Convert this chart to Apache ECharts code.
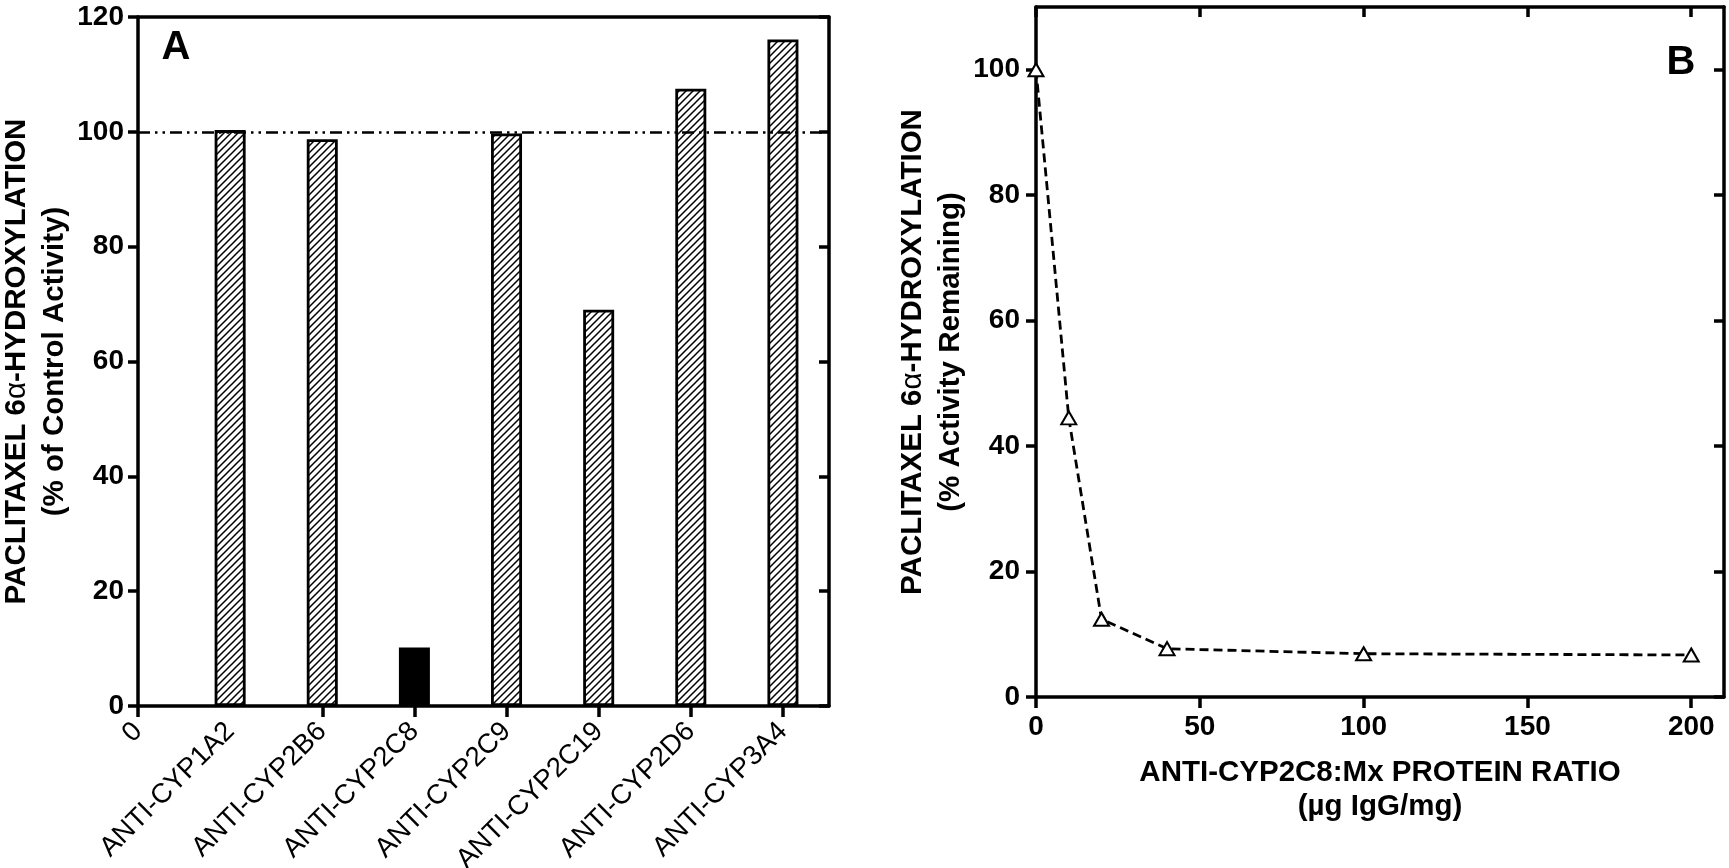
<!DOCTYPE html>
<html><head><meta charset="utf-8">
<script src="https://cdn.jsdelivr.net/npm/echarts@6/dist/echarts.min.js"></script>
<style>html,body{margin:0;padding:0;background:#fff}#c{width:1729px;height:868px}</style>
</head><body><div id="c"></div>
<script>
// ---- Data ----
const categories = ['0','ANTI-CYP1A2','ANTI-CYP2B6','ANTI-CYP2C8','ANTI-CYP2C9','ANTI-CYP2C19','ANTI-CYP2D6','ANTI-CYP3A4'];
const antibodyPositions = [1,2,3,4,5,6,7];
const activityPct = [100.3, 98.7, 10.2, 99.7, 69.0, 107.5, 116.1];
const solidBarIndex = 2; // ANTI-CYP2C8 drawn solid
const controlLevel = 100;
const xLabelPositionsA = [0,1,2,3,4,5,6,7];
const xTickPositionsA = [0,2,3,4,5,6,7];
const yTicksA = [0,20,40,60,80,100,120];

const ratioValues = [0,10,20,40,100,200];
const remainingPct = [100, 44.5, 12.4, 7.7, 6.9, 6.7];
const xTicksB = [0,50,100,150,200];
const yTicksB = [0,20,40,60,80,100];

// ---- Styling ----
const FONT = 'Liberation Sans, Arial, Helvetica, sans-serif';
const BLACK = '#000';
function hatchCanvas(){
  const s = 7, c = document.createElement('canvas');
  c.width = s; c.height = s;
  const g = c.getContext('2d');
  g.fillStyle = '#fff'; g.fillRect(0,0,s,s);
  g.strokeStyle = '#000'; g.lineWidth = 1.5;
  g.beginPath();
  g.moveTo(-1, s+1); g.lineTo(s+1, -1);
  g.moveTo(-2, 2); g.lineTo(2, -2);
  g.moveTo(s-2, s+2); g.lineTo(s+2, s-2);
  g.stroke();
  return c;
}
const hatch = {image: hatchCanvas(), repeat: 'repeat'};
const axisLine = {show:true, onZero:false, lineStyle:{color:BLACK, width:3.5}};
const tickLine = {color:BLACK, width:3.5};
const tickLabel = {color:BLACK, fontFamily:FONT, fontSize:28, fontWeight:'bold'};
function nameStyle(lh){
  return {
    color:BLACK, fontFamily:FONT, fontSize:29.5, fontWeight:'bold', lineHeight:lh,
    rich:{
      b:{color:BLACK, fontFamily:FONT, fontSize:29.5, fontWeight:'bold', lineHeight:lh},
      g:{color:BLACK, fontFamily:FONT, fontSize:29.5, fontWeight:'normal', lineHeight:lh}
    }
  };
}

const chart = echarts.init(document.getElementById('c'), null, {renderer:'canvas'});
chart.setOption({
  backgroundColor:'#fff',
  animation:false,
  grid:[
    {left:138, right:900, top:17, bottom:162, containLabel:false, outerBoundsMode:'none'},
    {left:1036, right:5, top:7, bottom:171, containLabel:false, outerBoundsMode:'none'}
  ],
  xAxis:[
    {gridIndex:0, type:'value', min:0, max:7.5, position:'bottom',
      axisLine, splitLine:{show:false},
      axisTick:{show:true, inside:false, length:11, lineStyle:tickLine, customValues:xTickPositionsA},
      axisLabel:{customValues:xLabelPositionsA, rotate:45, margin:21, color:BLACK, fontFamily:FONT, fontSize:27.5,
        formatter:(v)=> categories[Math.round(v)] || ''}},
    {gridIndex:0, type:'value', min:0, max:7.5, position:'top',
      axisLine, splitLine:{show:false}, axisTick:{show:false}, axisLabel:{show:false}},
    {gridIndex:1, type:'value', min:0, max:210, position:'bottom',
      axisLine, splitLine:{show:false},
      axisTick:{show:true, inside:false, length:11, lineStyle:tickLine, customValues:xTicksB},
      axisLabel:Object.assign({customValues:xTicksB, margin:16}, tickLabel),
      name:'{b|ANTI-CYP2C8:Mx PROTEIN RATIO}\n{b|(µg IgG/mg)}', nameLocation:'middle', nameGap:59,
      nameTextStyle:nameStyle(34)},
    {gridIndex:1, type:'value', min:0, max:210, position:'top',
      axisLine, splitLine:{show:false},
      axisTick:{show:true, inside:true, length:10, lineStyle:tickLine, customValues:xTicksB},
      axisLabel:{show:false}}
  ],
  yAxis:[
    {gridIndex:0, type:'value', min:0, max:120, position:'left',
      axisLine, splitLine:{show:false},
      axisTick:{show:true, inside:false, length:10, lineStyle:tickLine, customValues:yTicksA},
      axisLabel:Object.assign({customValues:yTicksA, margin:14}, tickLabel),
      name:'{b|PACLITAXEL 6}{g|α}{b|-HYDROXYLATION}\n{b|(% of Control Activity)}',
      nameLocation:'middle', nameRotate:90, nameGap:46, nameTextStyle:nameStyle(38)},
    {gridIndex:0, type:'value', min:0, max:120, position:'right',
      axisLine, splitLine:{show:false},
      axisTick:{show:true, inside:true, length:10, lineStyle:tickLine, customValues:yTicksA},
      axisLabel:{show:false}},
    {gridIndex:1, type:'value', min:0, max:110, position:'left',
      axisLine, splitLine:{show:false},
      axisTick:{show:true, inside:false, length:10, lineStyle:tickLine, customValues:yTicksB},
      axisLabel:Object.assign({customValues:yTicksB, margin:16}, tickLabel),
      name:'{b|PACLITAXEL 6}{g|α}{b|-HYDROXYLATION}\n{b|(% Activity Remaining)}',
      nameLocation:'middle', nameRotate:90, nameGap:64, nameTextStyle:nameStyle(38)},
    {gridIndex:1, type:'value', min:0, max:110, position:'right',
      axisLine, splitLine:{show:false},
      axisTick:{show:true, inside:true, length:10, lineStyle:tickLine, customValues:yTicksB},
      axisLabel:{show:false}}
  ],
  series:[
    {type:'bar', xAxisIndex:0, yAxisIndex:0, barWidth:31,
      itemStyle:{color:hatch, borderColor:BLACK, borderWidth:2.8},
      data: antibodyPositions.map((x,i)=>({value:[x, activityPct[i]],
        itemStyle: i===solidBarIndex ? {color:BLACK} : undefined})),
      markLine:{silent:true, symbol:'none', label:{show:false}, animation:false,
        lineStyle:{color:BLACK, width:2.6, type:[12,5,2.5,5,2.5,5]},
        data:[{yAxis:controlLevel}]}
    },
    {type:'line', xAxisIndex:2, yAxisIndex:2,
      data: ratioValues.map((x,i)=>[x, remainingPct[i]]),
      symbol:'triangle', symbolSize:[15,13], showAllSymbol:true,
      itemStyle:{color:'#fff', borderColor:BLACK, borderWidth:2},
      lineStyle:{color:BLACK, width:2.8, type:[9,5]}, z:3}
  ],
  graphic:[
    {type:'text', x:176, y:48, style:{text:'A', fill:BLACK, font:'bold 40px '+FONT, align:'center', verticalAlign:'middle', textAlign:'center', textVerticalAlign:'middle'}},
    {type:'text', x:1681, y:63, style:{text:'B', fill:BLACK, font:'bold 40px '+FONT, align:'center', verticalAlign:'middle', textAlign:'center', textVerticalAlign:'middle'}}
  ]
});
</script></body></html>
